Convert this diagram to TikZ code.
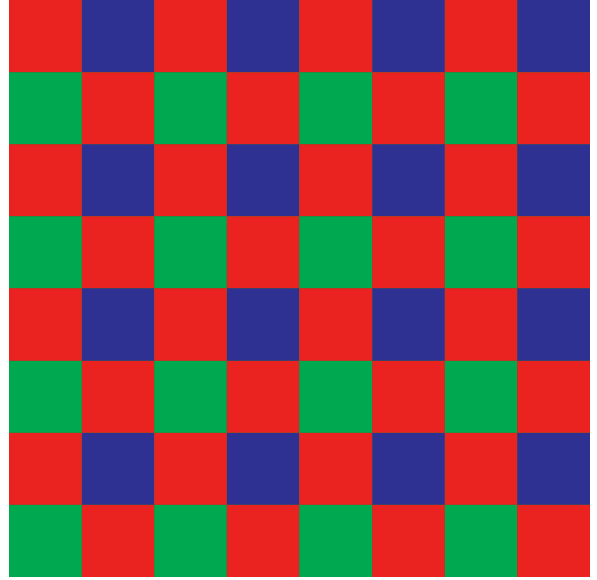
\documentclass[tikz,border=0pt]{standalone}
\definecolor{cred}{HTML}{EA2320}
\definecolor{cblue}{HTML}{2E3192}
\definecolor{cgreen}{HTML}{00A84F}
\begin{document}
\begin{tikzpicture}[x=1pt,y=-1pt]
\useasboundingbox (0,0) rectangle (597,579);
\fill[white] (0,0) rectangle (597,579);
\foreach \r in {0,...,7}{
  \foreach \c in {0,...,7}{
    \pgfmathsetmacro{\xa}{9+\c*72.6}
    \pgfmathsetmacro{\ya}{\r*72.1}
    \pgfmathtruncatemacro{\rp}{mod(\r,2)}
    \pgfmathtruncatemacro{\cp}{mod(\c,2)}
    \ifnum\rp=0
      \ifnum\cp=0 \def\col{cred}\else\def\col{cblue}\fi
    \else
      \ifnum\cp=0 \def\col{cgreen}\else\def\col{cred}\fi
    \fi
    \fill[\col] (\xa,\ya) rectangle ++(72.6,72.1);
  }
}
\foreach \i in {1,...,7}{
  \draw[draw=olive!60!black,opacity=0.35,line width=1pt] (9+\i*72.6,0) -- (9+\i*72.6,577);
  \draw[draw=olive!60!black,opacity=0.35,line width=1pt] (9,\i*72.1) -- (590,\i*72.1);
}
\end{tikzpicture}
\end{document}
